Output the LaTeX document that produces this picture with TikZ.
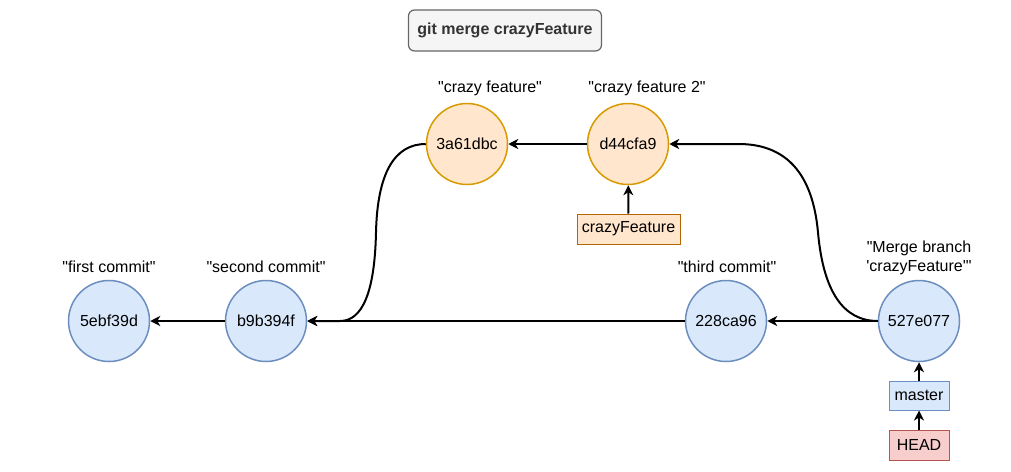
\documentclass[tikz,border=0pt]{standalone}
\usepackage{fontspec}
\setmainfont{Liberation Sans}
\usetikzlibrary{arrows.meta}
\definecolor{bluefill}{HTML}{DAE8FC}
\definecolor{bluestroke}{HTML}{6C8EBF}
\definecolor{orfill}{HTML}{FFE6CC}
\definecolor{orstroke}{HTML}{D79B00}
\definecolor{orboxfill}{HTML}{FFE6CC}
\definecolor{orboxstroke}{HTML}{B46504}
\definecolor{redfill}{HTML}{F8CECC}
\definecolor{redstroke}{HTML}{B85450}
\definecolor{greyfill}{HTML}{F5F5F5}
\definecolor{greystroke}{HTML}{666666}
\definecolor{greytext}{HTML}{333333}
\newcommand{\dq}{\textquotedbl}
\newcommand{\sq}{\textquotesingle}
\tikzset{
  txt/.style={font=\fontsize{16}{19}\selectfont, text=black, inner sep=0pt, align=center},
  commit/.style={txt, circle, minimum size=81pt, line width=1.5pt, draw=bluestroke, fill=bluefill},
  featcommit/.style={txt, circle, minimum size=81pt, line width=1.5pt, draw=orstroke, fill=orfill},
  refbox/.style={txt, rectangle, minimum height=30pt, line width=1pt},
  lbl/.style={txt},
  edge/.style={line width=2pt, -{Stealth[length=10pt,width=10pt,inset=3pt]}},
}
\begin{document}
\begin{tikzpicture}[x=1pt,y=-1pt]
\useasboundingbox (0,0) rectangle (1011,471);
% title
\node[txt, font=\fontsize{16}{19}\selectfont\bfseries, text=greytext, draw=greystroke, fill=greyfill,
  rounded corners=6pt, line width=1.2pt, minimum width=193pt, minimum height=41pt] (title) at (505,30.5) {git merge crazyFeature};
% commits
\node[commit] (c1) at (109,321) {5ebf39d};
\node[commit] (c2) at (266,321) {b9b394f};
\node[commit] (c3) at (726,321) {228ca96};
\node[commit] (c4) at (919,321) {527e077};
\node[featcommit] (f1) at (467,144) {3a61dbc};
\node[featcommit] (f2) at (628,144) {d44cfa9};
% labels
\node[lbl] (l1) at (109,267) {\dq first commit\dq};
\node[lbl] (l2) at (266,267) {\dq second commit\dq};
\node[lbl] (l3) at (727,267) {\dq third commit\dq};
\node[lbl] (l4) at (919,258) {\dq Merge branch\\\sq crazyFeature\sq\dq};
\node[lbl] (l5) at (490,88) {\dq crazy feature\dq};
\node[lbl] (l6) at (647,88) {\dq crazy feature 2\dq};
% refs
\node[refbox, draw=orboxstroke, fill=orboxfill, minimum width=103pt] (cf) at (628.5,229) {crazyFeature};
\node[refbox, draw=bluestroke, fill=bluefill, minimum width=60pt, minimum height=29pt] (master) at (919,395.5) {master};
\node[refbox, draw=redstroke, fill=redfill, minimum width=60pt] (head) at (919,445) {HEAD};
% edges
\draw[edge] (c2) -- (c1);
\draw[edge] (c3) -- (c2);
\draw[edge] (c4) -- (c3);
\draw[edge] (f2) -- (f1);
\draw[edge] (cf) -- (f2);
\draw[edge] (master) -- (c4);
\draw[edge] (head) -- (master);
\coordinate (m1) at (376,232.5);
\draw[edge] (f1.west) .. controls (394.3,144) and (377.3,173.5) .. (m1)
  .. controls (374.7,291.5) and (362.7,321) .. (340,321) -- (c2.east);
\coordinate (m2) at (818,232.5);
\draw[edge] (c4.west) .. controls (843.3,321) and (823.3,291.5) .. (m2)
  .. controls (812.7,173.5) and (786.2,144) .. (738.5,144) -- (f2.east);
\end{tikzpicture}
\end{document}
